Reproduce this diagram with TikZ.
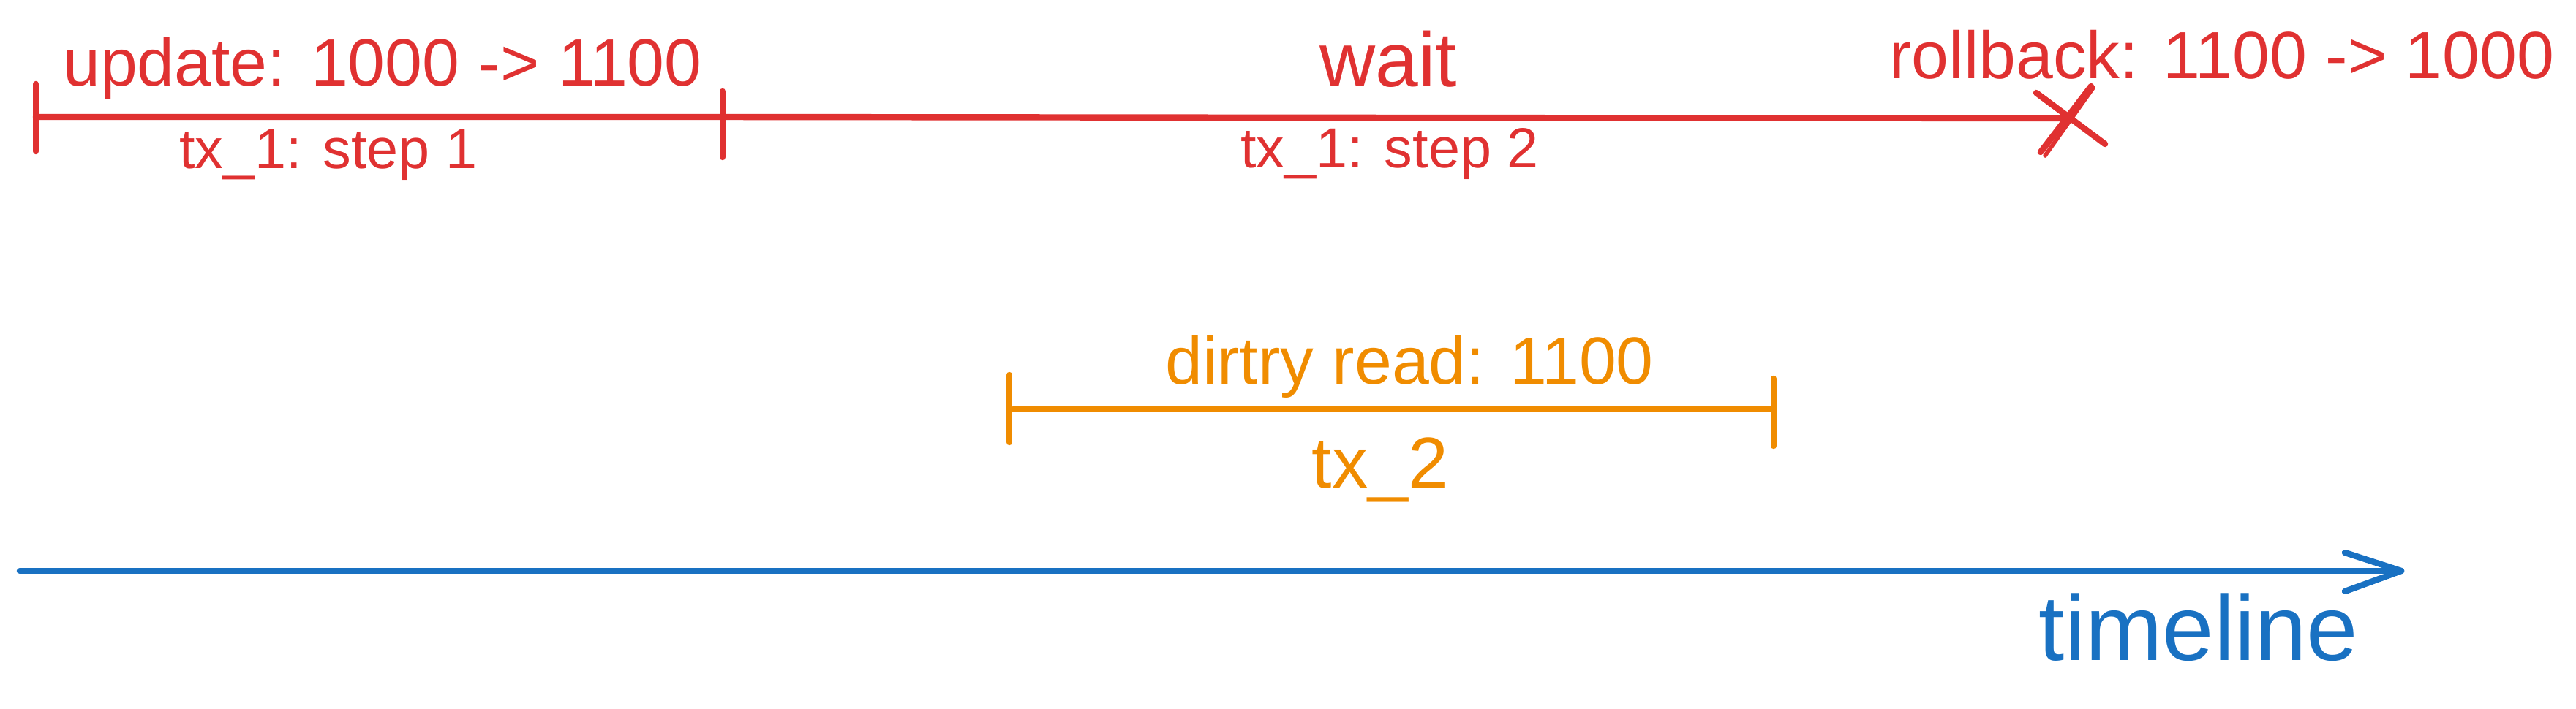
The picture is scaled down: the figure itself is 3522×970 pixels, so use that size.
\documentclass[tikz,border=0pt]{standalone}
\usepackage{fontspec}
\setmainfont{Liberation Sans}
\definecolor{exred}{HTML}{E03131}
\definecolor{exorange}{HTML}{F08C00}
\definecolor{exblue}{HTML}{1971C2}
\begin{document}
\begin{tikzpicture}[x=0.01cm,y=-0.01cm,
  redstroke/.style={draw=exred,line width=2.4pt,line cap=round,line join=round},
  orangestroke/.style={draw=exorange,line width=2.4pt,line cap=round,line join=round},
  bluestroke/.style={draw=exblue,line width=2.4pt,line cap=round,line join=round},
  lbl/.style={anchor=base,inner sep=0pt,font=\fontsize{26}{31}\selectfont},
  smalllbl/.style={anchor=base,inner sep=0pt,font=\fontsize{22}{26}\selectfont},
  biglbl/.style={anchor=base,inner sep=0pt,font=\fontsize{36}{42}\selectfont}]
\useasboundingbox (0,0) rectangle (3522,970);

% --- tx_1 (red) ---
\coordinate (r0) at (49,160);
\coordinate (r1) at (988,160);
\coordinate (rx) at (2829,162);
\coordinate (r0t) at (49,115);
\coordinate (r0b) at (49,207);
\coordinate (r1t) at (988,125);
\coordinate (r1b) at (988,215);
\coordinate (xa1) at (2784,127);
\coordinate (xa2) at (2878,197);
\coordinate (xb1) at (2859,118);
\coordinate (xb2) at (2790,208);
\coordinate (xc1) at (2862,120);
\coordinate (xc2) at (2796,213);
\draw[redstroke] (r0) -- (r1) -- (rx);
\draw[redstroke] (r0t) -- (r0b);
\draw[redstroke] (r1t) -- (r1b);
\draw[redstroke] (xa1) -- (xa2);
\draw[redstroke] (xb1) -- (xb2);
\draw[redstroke,line width=1.6pt] (xc1) -- (xc2);

\node[lbl,text=exred] (upd) at (523,118) {update: 1000 -> 1100};
\node[smalllbl,text=exred] (s1) at (449,230) {tx\_1: step 1};
\node[lbl,text=exred,font=\fontsize{30}{36}\selectfont] (wait) at (1898,119) {wait};
\node[smalllbl,text=exred] (s2) at (1900,229) {tx\_1: step 2};
\node[lbl,text=exred] (rb) at (3038,108) {rollback: 1100 -> 1000};

% --- tx_2 (orange) ---
\coordinate (o0) at (1385,560);
\coordinate (o1) at (2425,560);
\coordinate (o0t) at (1380,513);
\coordinate (o0b) at (1380,605);
\coordinate (o1t) at (2425,518);
\coordinate (o1b) at (2425,610);
\draw[orangestroke] (o0) -- (o1);
\draw[orangestroke] (o0t) -- (o0b);
\draw[orangestroke] (o1t) -- (o1b);
\node[lbl,text=exorange] (dr) at (1927,525) {dirtry read: 1100};
\node[lbl,text=exorange,font=\fontsize{28}{33}\selectfont] (tx2) at (1887,667) {tx\_2};

% --- timeline (blue) ---
\coordinate (b0) at (27,781);
\coordinate (b1) at (3283,781);
\coordinate (bu) at (3206,756);
\coordinate (bd) at (3206,809);
\draw[bluestroke] (b0) -- (b1);
\draw[bluestroke] (bu) -- (b1) -- (bd);
\node[biglbl,text=exblue] (tl) at (3006,903) {timeline};
\end{tikzpicture}
\end{document}
